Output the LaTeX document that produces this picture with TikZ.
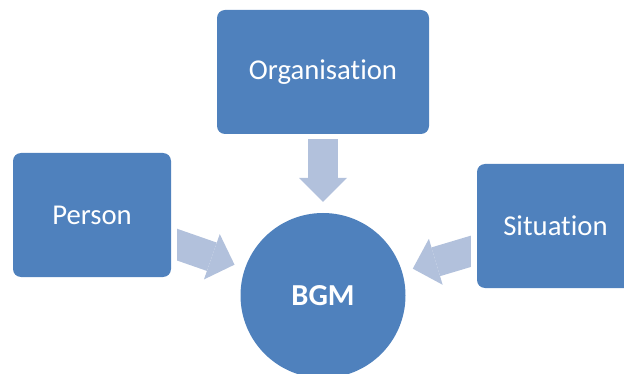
\documentclass[tikz,border=0pt]{standalone}
\usepackage{fontspec}
\setmainfont{Carlito}[Ligatures=NoCommon]
\usetikzlibrary{arrows.meta}
\definecolor{boxblue}{RGB}{79,129,189}
\definecolor{arrowblue}{RGB}{178,193,220}
\begin{document}
\begin{tikzpicture}[x=1pt,y=-1pt,
  box/.style={rectangle, rounded corners=8pt, fill=boxblue, text=white,
    inner sep=0pt, minimum height=124pt, font=\fontsize{28.7}{34}\selectfont},
  hub/.style={circle, fill=boxblue, text=white, inner sep=0pt,
    minimum size=165pt, font=\fontsize{30.5}{36}\selectfont\bfseries},
  blockarrow/.style={draw=arrowblue, line width=30pt,
    -{Triangle[length=24pt,width=48pt,line width=0pt 0 0]}, shorten >=11pt}
]
\useasboundingbox (0,0) rectangle (624,374);
\clip (0,0) rectangle (624,374);

% the four shapes
\node[box, minimum width=212pt] (org) at (323,72) {Organisation};
\node[box, minimum width=158pt] (person) at (92,215) {Person};
\node[box, minimum width=157pt] (situation) at (555.5,226) {Situation};
\node[hub] (bgm) at (323,295.5) {BGM};

% block arrows pointing at the hub
\draw[blockarrow, shorten <=5pt] (org) -- (bgm);
\begin{scope}
  \clip ([xshift=6pt]person.east) ++(0,-150) rectangle ++(300,300);
  \draw[blockarrow] (person.center) -- (bgm);
\end{scope}
\begin{scope}
  \clip ([xshift=-6pt]situation.west) ++(0,-150) rectangle ++(-300,300);
  \draw[blockarrow] (situation.center) -- (bgm);
\end{scope}
\end{tikzpicture}
\end{document}
